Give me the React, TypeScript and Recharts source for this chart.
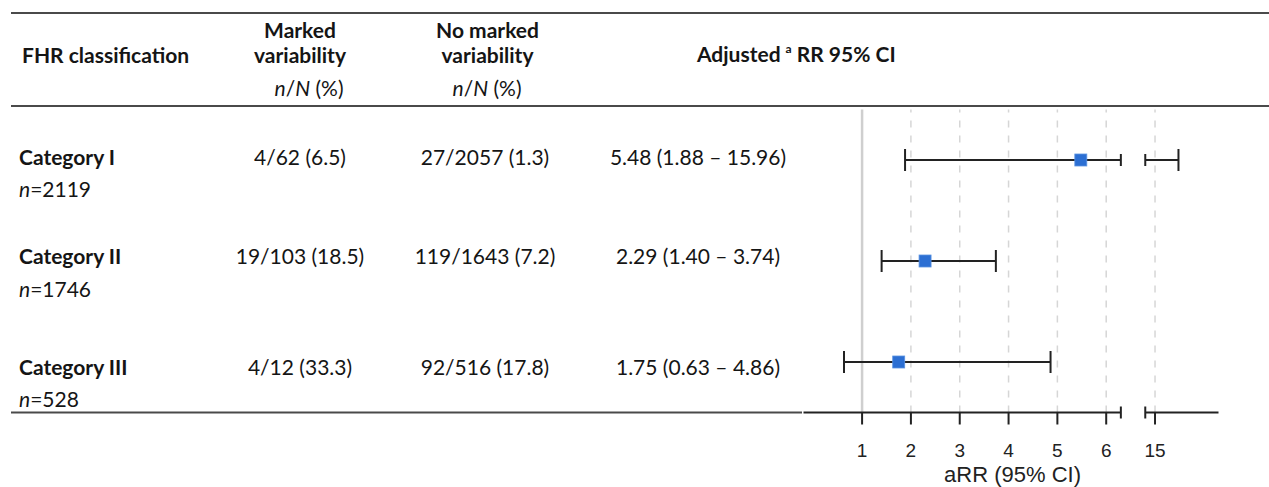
import React from 'react';
import { ScatterChart, XAxis, YAxis, Scatter, ReferenceLine } from 'recharts';

// ---------- data ----------
const categories = ['Category I', 'Category II', 'Category III'];
const categoryN = ['2119', '1746', '528'];
const markedVariability = ['4/62 (6.5)', '19/103 (18.5)', '4/12 (33.3)'];
const noMarkedVariability = ['27/2057 (1.3)', '119/1643 (7.2)', '92/516 (17.8)'];
const rrEstimate = [5.48, 2.29, 1.75];
const rrLower = [1.88, 1.4, 0.63];
const rrUpper = [15.96, 3.74, 4.86];
const tickValues = [1, 2, 3, 4, 5, 6, 15];

// broken axis: values up to 6.5 are linear, the upper part (around 15) is compressed
const BREAK_LOW = 6.3;
const BREAK_HIGH = 14.6;
const brk = (v: number) => (v <= 6.5 ? v : 7 + (v - 15) * 0.5);
const tickT = tickValues.map(brk);

const W = 1269;
const H = 487;
const TABLE_FONT = "Lato, 'Open Sans', sans-serif";
const AXIS_FONT = "'Liberation Sans', Arial, sans-serif";
const TXT = '#151515';
const LINE = '#222';

const forestData = categories.map((c, i) => ({ name: c, row: i + 1, t: brk(rrEstimate[i]) }));

type Seg = { key: string; row: number; a: number; b: number; capA: number; capB: number };
const ciSegments: Seg[] = [];
categories.forEach((c, i) => {
  const lo = rrLower[i];
  const hi = rrUpper[i];
  if (hi > BREAK_LOW) {
    ciSegments.push({ key: c + 'a', row: i + 1, a: brk(lo), b: brk(BREAK_LOW), capA: 11, capB: 6 });
    ciSegments.push({ key: c + 'b', row: i + 1, a: brk(BREAK_HIGH), b: brk(hi), capA: 6, capB: 11 });
  } else {
    ciSegments.push({ key: c, row: i + 1, a: brk(lo), b: brk(hi), capA: 11, capB: 11 });
  }
});

const makeCi = (capA: number, capB: number, width = 2) => (p: any) => (
  <g>
    <line x1={p.x1} y1={p.y1} x2={p.x2} y2={p.y2} stroke={LINE} strokeWidth={width} />
    {capA > 0 && <line x1={p.x1} y1={p.y1 - capA} x2={p.x1} y2={p.y1 + capA} stroke={LINE} strokeWidth={2} />}
    {capB > 0 && <line x1={p.x2} y1={p.y2 - capB} x2={p.x2} y2={p.y2 + capB} stroke={LINE} strokeWidth={2} />}
  </g>
);

const SquareDot = (p: any) => (
  <rect x={p.cx - 6} y={p.cy - 6} width={12} height={12} fill="#2C6FD3" stroke="#5C94E2" strokeWidth={0.8} />
);

const gridT = tickT.slice(1);

const Table = () => {
  const rowBase = [165, 263.5, 375];
  const nBase = [196.5, 296.5, 407];
  const fs = 21;
  return (
    <svg width={W} height={H} style={{ position: 'absolute', left: 0, top: 0, pointerEvents: 'none' }}>
      <line x1={11} y1={13} x2={W} y2={13} stroke="#4a4a4a" strokeWidth={2} />
      <line x1={11} y1={106} x2={W} y2={106} stroke="#4a4a4a" strokeWidth={2} />
      <line x1={11} y1={412.5} x2={802} y2={412.5} stroke="#4a4a4a" strokeWidth={2} />
      <g fontFamily={TABLE_FONT} fill={TXT} fontSize={fs}>
        <text x={22} y={63} fontWeight={700}>FHR classification</text>
        <text x={300} y={38} fontWeight={700} textAnchor="middle">Marked</text>
        <text x={300} y={63} fontWeight={700} textAnchor="middle">variability</text>
        <text x={309} y={96} textAnchor="middle"><tspan fontStyle="italic">n</tspan>/<tspan fontStyle="italic">N</tspan> (%)</text>
        <text x={487.5} y={38} fontWeight={700} textAnchor="middle">No marked</text>
        <text x={487.5} y={63} fontWeight={700} textAnchor="middle">variability</text>
        <text x={487} y={96} textAnchor="middle"><tspan fontStyle="italic">n</tspan>/<tspan fontStyle="italic">N</tspan> (%)</text>
        <text x={697} y={62} fontWeight={700}>
          Adjusted<tspan dx={5} dy={-9} fontSize={12}>a</tspan><tspan dy={9}> RR 95% CI</tspan>
        </text>
        {categories.map((c, i) => (
          <g key={c}>
            <text x={19} y={rowBase[i]} fontWeight={700}>{c}</text>
            <text x={19} y={nBase[i]}><tspan fontStyle="italic">n</tspan>={categoryN[i]}</text>
            <text x={300} y={rowBase[i]} textAnchor="middle">{markedVariability[i]}</text>
            <text x={485} y={rowBase[i]} textAnchor="middle">{noMarkedVariability[i]}</text>
            <text x={698} y={rowBase[i]} textAnchor="middle">
              {`${rrEstimate[i].toFixed(2)} (${rrLower[i].toFixed(2)} \u2013 ${rrUpper[i].toFixed(2)})`}
            </text>
          </g>
        ))}
      </g>
      <text x={1012.5} y={482} textAnchor="middle" fontFamily={AXIS_FONT} fontSize={22} fill="#222">
        aRR (95% CI)
      </text>
    </svg>
  );
};

export default function App() {
  return (
    <div style={{ position: 'absolute', left: 0, top: 0, width: W, height: H, background: '#fff' }}>
      <ScatterChart
        width={W}
        height={H}
        margin={{ top: 109.5, left: 803.5, right: 50.5, bottom: 14.5 }}
      >
        <XAxis
          type="number"
          dataKey="t"
          domain={[-0.2, 8.3]}
          allowDataOverflow
          ticks={tickT}
          interval={0}
          tickFormatter={(v: number) => {
            const idx = tickT.findIndex((t) => Math.abs(t - v) < 1e-6);
            return idx >= 0 ? String(tickValues[idx]) : '';
          }}
          axisLine={false}
          tickLine={{ stroke: LINE, strokeWidth: 2 }}
          tickSize={12}
          tickMargin={19}
          tick={{ fontSize: 19, fill: '#222', fontFamily: AXIS_FONT }}
          height={60}
        />
        <YAxis type="number" dataKey="row" domain={[0.5, 3.5]} reversed hide />
        <ReferenceLine x={1} stroke="#cfcfcf" strokeWidth={2.5} ifOverflow="visible" />
        {gridT.map((t) => (
          <ReferenceLine key={'g' + t} x={t} stroke="#d6d6d6" strokeWidth={1.5} strokeDasharray="7 8" ifOverflow="visible" />
        ))}
        <ReferenceLine
          segment={[{ x: -0.2, y: 3.5 }, { x: brk(BREAK_LOW), y: 3.5 }]}
          ifOverflow="visible"
          shape={makeCi(0, 6)}
        />
        <ReferenceLine
          segment={[{ x: brk(BREAK_HIGH), y: 3.5 }, { x: 8.3, y: 3.5 }]}
          ifOverflow="visible"
          shape={makeCi(6, 0)}
        />
        {ciSegments.map((s) => (
          <ReferenceLine
            key={s.key}
            segment={[{ x: s.a, y: s.row }, { x: s.b, y: s.row }]}
            ifOverflow="visible"
            shape={makeCi(s.capA, s.capB)}
          />
        ))}
        <Scatter data={forestData} isAnimationActive={false} shape={SquareDot} />
      </ScatterChart>
      <Table />
    </div>
  );
}
